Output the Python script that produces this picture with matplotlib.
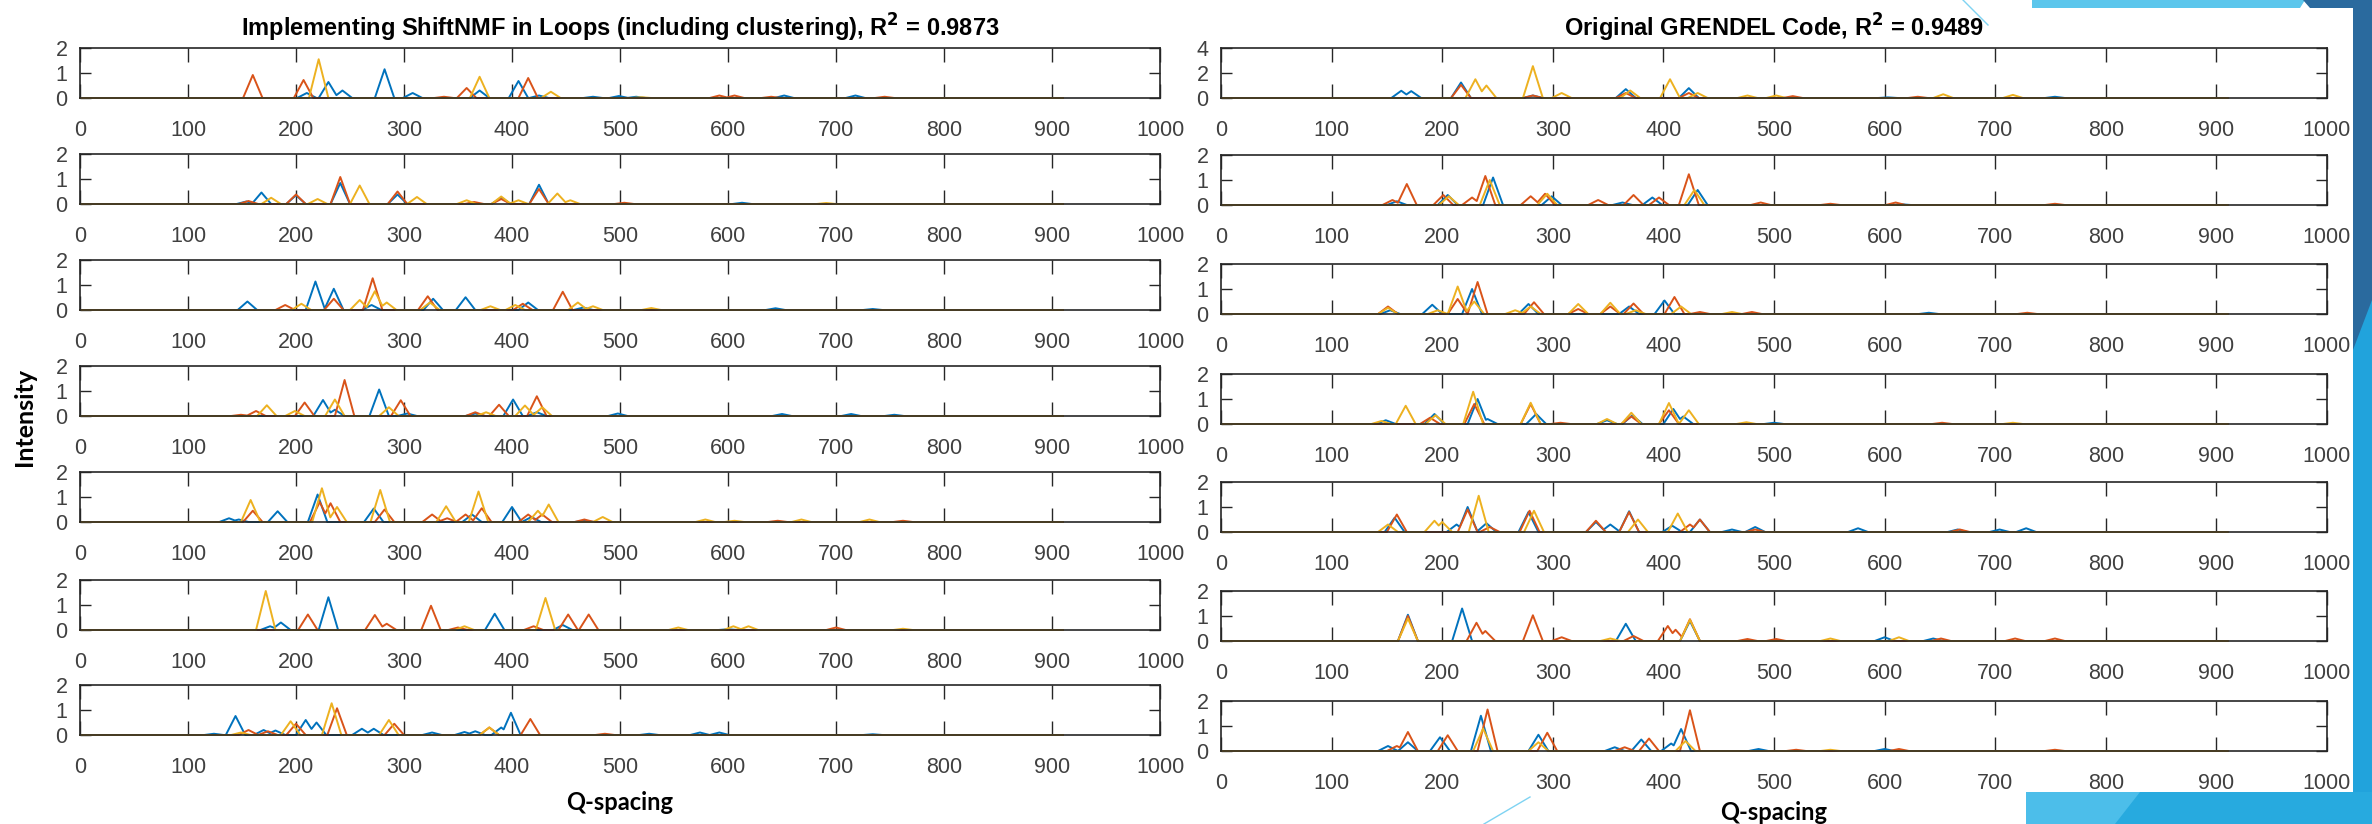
import numpy as np
import matplotlib
matplotlib.use("Agg")
import matplotlib.pyplot as plt
from matplotlib.patches import Polygon

# peak lists (Q position, intensity), one list per subplot row
q_end = 910
peak_halfwidth = 9

shift_blue = [
    [(210, 0.2), (230, 0.64), (243, 0.3), (282, 1.15), (308, 0.2), (370, 0.3), (406, 0.68), (425, 0.1),
     (475, 0.05), (499, 0.08), (515, 0.05), (652, 0.1), (718, 0.1)],
    [(154, 0.1), (168, 0.46), (200, 0.35), (241, 0.84), (294, 0.38), (390, 0.25), (425, 0.77), (613, 0.05)],
    [(155, 0.34), (218, 1.14), (235, 0.85), (270, 0.2), (327, 0.45), (357, 0.51), (415, 0.3), (466, 0.1),
     (644, 0.07), (734, 0.04)],
    [(225, 0.64), (236, 0.25), (277, 1.06), (303, 0.1), (366, 0.1), (401, 0.66), (423, 0.15), (498, 0.1),
     (650, 0.08), (714, 0.08), (754, 0.05)],
    [(138, 0.15), (147, 0.1), (183, 0.43), (220, 1.1), (272, 0.54), (363, 0.3), (400, 0.6), (418, 0.2),
     (467, 0.05)],
    [(176, 0.15), (186, 0.3), (230, 1.31), (384, 0.65), (447, 0.2), (600, 0.03)],
    [(124, 0.05), (144, 0.76), (170, 0.2), (181, 0.18), (209, 0.6), (219, 0.5), (261, 0.25), (272, 0.25),
     (326, 0.1), (356, 0.12), (366, 0.15), (390, 0.3), (399, 0.89), (527, 0.05), (574, 0.1), (592, 0.1),
     (734, 0.03)],
]
shift_orange = [
    [(160, 0.92), (207, 0.72), (337, 0.05), (358, 0.4), (415, 0.8), (592, 0.1), (606, 0.1), (640, 0.05),
     (745, 0.05)],
    [(156, 0.12), (200, 0.38), (241, 1.08), (294, 0.5), (365, 0.08), (390, 0.2), (425, 0.6), (504, 0.05)],
    [(190, 0.2), (235, 0.45), (271, 1.27), (322, 0.55), (410, 0.25), (447, 0.73)],
    [(149, 0.05), (163, 0.2), (208, 0.54), (245, 1.44), (297, 0.63), (366, 0.15), (388, 0.45), (423, 0.79)],
    [(160, 0.45), (222, 0.8), (232, 0.75), (282, 0.5), (326, 0.3), (340, 0.15), (357, 0.3), (372, 0.55),
     (415, 0.3), (428, 0.3), (467, 0.1), (646, 0.05), (762, 0.05)],
    [(211, 0.62), (273, 0.6), (284, 0.25), (325, 0.97), (350, 0.1), (420, 0.15), (452, 0.62), (471, 0.62),
     (700, 0.1)],
    [(156, 0.2), (174, 0.15), (200, 0.45), (238, 1.07), (291, 0.45), (379, 0.3), (417, 0.64), (486, 0.05)],
]
shift_yellow = [
    [(221, 1.55), (370, 0.85), (436, 0.25), (520, 0.03)],
    [(177, 0.25), (220, 0.2), (259, 0.74), (312, 0.28), (358, 0.15), (390, 0.3), (406, 0.15), (442, 0.42),
     (454, 0.15), (691, 0.04)],
    [(205, 0.25), (259, 0.4), (273, 0.75), (284, 0.3), (324, 0.3), (380, 0.15), (403, 0.2), (461, 0.3),
     (475, 0.15), (529, 0.08)],
    [(173, 0.43), (199, 0.2), (236, 0.66), (286, 0.35), (376, 0.15), (412, 0.42), (428, 0.35)],
    [(158, 0.88), (224, 1.35), (238, 0.6), (278, 1.28), (339, 0.63), (369, 1.22), (424, 0.45), (434, 0.7),
     (484, 0.2), (579, 0.1), (606, 0.05), (668, 0.1), (731, 0.1)],
    [(172, 1.56), (356, 0.15), (431, 1.28), (554, 0.1), (605, 0.15), (619, 0.15), (762, 0.05)],
    [(149, 0.1), (195, 0.55), (233, 1.27), (286, 0.6), (379, 0.3)],
]

grendel_blue = [
    [(163, 0.58), (172, 0.55), (217, 1.24), (282, 0.2), (366, 0.71), (423, 0.79), (603, 0.05), (754, 0.1)],
    [(159, 0.15), (205, 0.4), (246, 1.1), (299, 0.35), (363, 0.1), (390, 0.3), (431, 0.6), (615, 0.03)],
    [(153, 0.15), (191, 0.37), (227, 1.0), (278, 0.4), (369, 0.3), (401, 0.54), (640, 0.05)],
    [(149, 0.15), (193, 0.4), (232, 1.0), (241, 0.2), (285, 0.4), (349, 0.15), (372, 0.35), (409, 0.6),
     (418, 0.3), (500, 0.05)],
    [(157, 0.57), (213, 0.3), (223, 1.0), (240, 0.35), (278, 0.8), (339, 0.4), (352, 0.3), (369, 0.83),
     (408, 0.25), (433, 0.5), (462, 0.1), (483, 0.2), (576, 0.15), (666, 0.1), (704, 0.1), (728, 0.15)],
    [(169, 1.05), (218, 1.3), (366, 0.69), (424, 0.8), (600, 0.15), (644, 0.1)],
    [(151, 0.2), (169, 0.35), (198, 0.55), (235, 1.41), (287, 0.65), (356, 0.15), (380, 0.46), (407, 0.3),
     (416, 0.88), (486, 0.08), (600, 0.08)],
]
grendel_orange = [
    [(217, 1.05), (282, 0.2), (366, 0.4), (423, 0.4), (517, 0.15), (630, 0.1)],
    [(155, 0.2), (168, 0.84), (201, 0.4), (227, 0.3), (239, 1.16), (280, 0.35), (293, 0.45), (341, 0.2),
     (373, 0.4), (396, 0.3), (423, 1.23), (488, 0.1), (551, 0.05), (610, 0.1), (754, 0.05)],
    [(151, 0.3), (214, 0.6), (232, 1.28), (283, 0.47), (323, 0.2), (352, 0.3), (373, 0.42), (410, 0.68),
     (433, 0.08), (480, 0.08), (729, 0.05)],
    [(189, 0.25), (229, 0.8), (280, 0.8), (307, 0.05), (371, 0.3), (405, 0.55), (652, 0.05)],
    [(159, 0.7), (223, 0.9), (243, 0.2), (279, 0.85), (339, 0.45), (369, 0.8), (424, 0.3), (433, 0.5),
     (483, 0.1), (668, 0.1)],
    [(169, 1.0), (231, 0.73), (239, 0.4), (282, 1.03), (308, 0.15), (373, 0.2), (404, 0.6), (411, 0.45),
     (424, 0.87), (476, 0.08), (502, 0.08), (651, 0.1), (718, 0.1), (754, 0.1)],
    [(159, 0.2), (169, 0.76), (205, 0.63), (241, 1.66), (295, 0.73), (365, 0.15), (387, 0.5), (424, 1.63),
     (520, 0.05), (613, 0.08), (754, 0.05)],
]
grendel_yellow = [
    [(230, 1.5), (240, 1.0), (282, 2.55), (308, 0.4), (370, 0.6), (406, 1.5), (431, 0.4), (476, 0.2),
     (502, 0.2), (653, 0.3), (716, 0.25)],
    [(206, 0.35), (243, 1.0), (295, 0.45), (428, 0.6)],
    [(151, 0.25), (196, 0.15), (214, 1.1), (229, 0.5), (266, 0.15), (280, 0.3), (323, 0.4), (352, 0.45),
     (375, 0.15), (416, 0.3), (462, 0.08)],
    [(145, 0.12), (167, 0.73), (194, 0.35), (228, 1.29), (280, 0.85), (349, 0.2), (371, 0.45), (405, 0.84),
     (423, 0.55), (475, 0.07), (716, 0.05)],
    [(151, 0.3), (193, 0.45), (200, 0.4), (233, 1.45), (283, 0.85), (377, 0.5), (413, 0.74)],
    [(169, 0.9), (352, 0.1), (424, 0.85), (551, 0.1), (613, 0.15)],
    [(237, 0.9), (287, 0.35), (420, 0.4), (551, 0.05)],
]

shift_title = r"Implementing ShiftNMF in Loops (including clustering), R$^\mathbf{2}$ = 0.9873"
grendel_title = r"Original GRENDEL Code, R$^\mathbf{2}$ = 0.9489"
shift_ymax = [2, 2, 2, 2, 2, 2, 2]
grendel_ymax = [4, 2, 2, 2, 2, 2, 2]
x_ticks = [0, 100, 200, 300, 400, 500, 600, 700, 800, 900, 1000]

colors = ["#0072BD", "#D95319", "#EDB120"]

W, H = 2372, 824
left_box = (80, 1160, [48, 154, 260, 366, 472, 580, 685], 50)
right_box = (1221, 2327, [48, 155, 264, 374, 482, 591, 701], 50)


def trace(peaks, w=peak_halfwidth, end=q_end):
    xs, ys = [0.0], [0.0]
    prev = None
    for c, h in sorted(peaks):
        if prev is not None and c - w < prev[0] + w:
            xs.pop(); ys.pop()
            c1, h1 = prev
            x = (w * (h1 - h) + h1 * c1 + h * c) / (h1 + h)
            x = min(max(x, c1), c)
            y = max(h1 * (1 - (x - c1) / w), h * (1 - (c - x) / w), 0)
            xs.append(x); ys.append(y)
        else:
            xs.append(c - w); ys.append(0)
        xs += [c, c + w]
        ys += [h, 0]
        prev = (c, h)
    xs.append(end); ys.append(0)
    return xs, ys


fig = plt.figure(figsize=(W / 100, H / 100), dpi=100)
plt.rcParams["font.family"] = ["Liberation Sans", "DejaVu Sans"]

# slide decoration
deco = fig.add_axes([0, 0, 1, 1], zorder=-1)
deco.set_xlim(0, W); deco.set_ylim(H, 0); deco.axis("off")
deco.add_patch(Polygon([(2032, 0), (2305, 0), (2300, 8), (2032, 8)], color="#5CC6EC", lw=0))
deco.add_patch(Polygon([(2353, 0), (W, 0), (W, H), (2353, H)], color="#21A3DC", lw=0))
deco.add_patch(Polygon([(2303, 0), (W, 0), (W, 300), (2353, 350), (2353, 8), (2310, 8)], color="#2A6A9E", lw=0))
deco.add_patch(Polygon([(2026, 792), (W, 792), (W, H), (2026, H)], color="#4CBEEA", lw=0))
deco.add_patch(Polygon([(2140, 792), (W, 792), (W, H), (2115, H)], color="#27AADF", lw=0))
deco.plot([1963, 1988], [0, 25], color="#7FD3F2", lw=1)
deco.plot([1530, 1484], [797, 824], color="#7FD3F2", lw=1)


def panel_column(box, blues, oranges, yellows, ymaxes, title, xlabel_y):
    x0, x1, tops, h = box
    axes = []
    for i, top in enumerate(tops):
        ax = fig.add_axes([x0 / W, 1 - (top + h) / H, (x1 - x0) / W, h / H])
        for series, col in zip((blues[i], oranges[i], yellows[i]), colors):
            xs, ys = trace(series)
            ax.plot(xs, ys, color=col, lw=1.4, clip_on=False, solid_joinstyle="round")
        ax.set_xlim(0, 1000)
        ax.set_ylim(0, ymaxes[i])
        ax.set_xticks(x_ticks)
        ax.set_yticks([0, ymaxes[i] / 2, ymaxes[i]])
        ax.set_yticklabels([str(int(v)) for v in (0, ymaxes[i] / 2, ymaxes[i])])
        ax.tick_params(axis="x", direction="in", top=True, length=10, width=1, pad=16,
                       labelsize=15.5, colors="#262626", labelcolor="#404040")
        ax.tick_params(axis="y", direction="in", right=True, length=8, width=1, pad=9,
                       labelsize=15.5, colors="#262626", labelcolor="#404040")
        for s in ax.spines.values():
            s.set_color("#262626")
            s.set_linewidth(1.2)
        axes.append(ax)
    axes[0].set_title(title, fontsize=17, fontweight="bold", pad=8, color="black")
    fig.text((x0 + x1) / 2 / W, 1 - xlabel_y / H, "Q-spacing", ha="center", va="center",
             fontsize=17, fontweight="bold", family=["Lato", "DejaVu Sans"])
    return axes


panel_column(left_box, shift_blue, shift_orange, shift_yellow, shift_ymax, shift_title, 802)
panel_column(right_box, grendel_blue, grendel_orange, grendel_yellow, grendel_ymax, grendel_title, 812)
fig.text(25 / W, 1 - 417 / H, "Intensity", rotation=90, ha="center", va="center",
         fontsize=18, fontweight="bold", family=["Lato", "DejaVu Sans"])

fig.savefig("out.png", dpi=100, facecolor="white")
